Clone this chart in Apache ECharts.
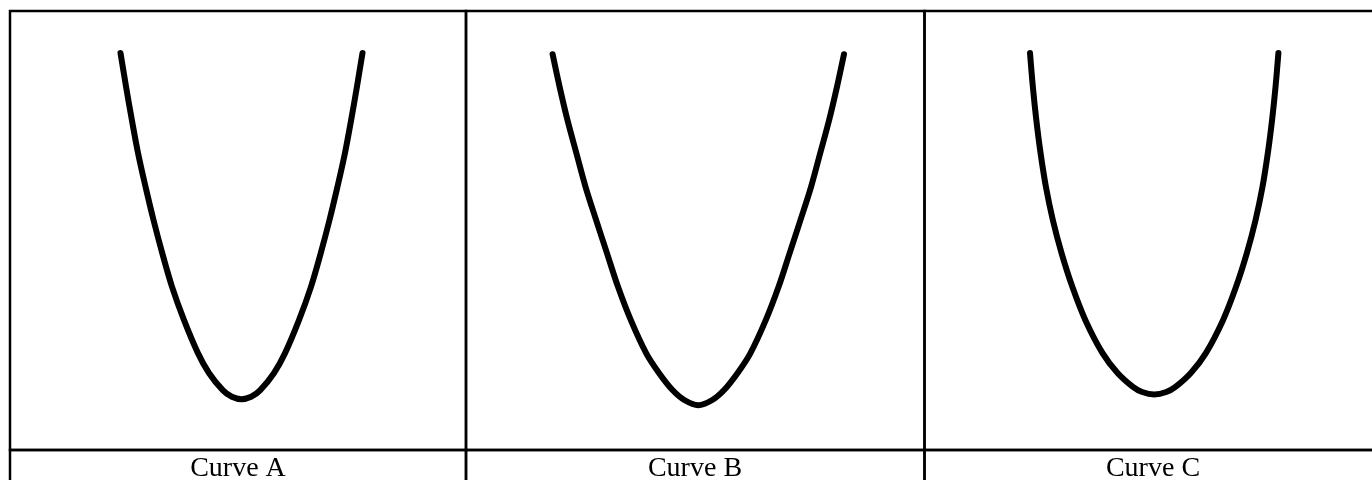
<!DOCTYPE html>
<html>
<head>
<meta charset="utf-8">
<script src="https://cdn.jsdelivr.net/npm/echarts@6/dist/echarts.min.js"></script>
<style>
  html, body { margin: 0; padding: 0; background: #fff; }
  #main { width: 1372px; height: 480px; }
</style>
</head>
<body>
<div id="main"></div>
<script>
// panel labels
var labels = ['Curve A', 'Curve B', 'Curve C']

// curve points: x from -1 (left end) to 1 (right end), y as height 0..100
var curveAX = [-1.0, -0.954, -0.906, -0.855, -0.793, -0.727, -0.655, -0.574, -0.475, -0.360, -0.269, -0.153, -0.08, 0, 0.08, 0.153, 0.269, 0.360, 0.475, 0.574, 0.655, 0.727, 0.793, 0.855, 0.906, 0.954, 1.0]
var curveAY = [100, 91.5, 83.1, 74.8, 66.3, 57.9, 49.6, 41.1, 32.7, 24.4, 19.4, 15.0, 13.4, 12.8, 13.4, 15.0, 19.4, 24.4, 32.7, 41.1, 49.6, 57.9, 66.3, 74.8, 83.1, 91.5, 100]

var curveBX = [-1.0, -0.952, -0.898, -0.837, -0.774, -0.701, -0.627, -0.551, -0.463, -0.358, -0.270, -0.177, -0.096, 0, 0.096, 0.177, 0.270, 0.358, 0.463, 0.551, 0.627, 0.701, 0.774, 0.837, 0.898, 0.952, 1.0]
var curveBY = [99.7, 91.5, 83.1, 74.8, 66.3, 57.9, 49.6, 41.1, 32.7, 24.4, 19.4, 15.1, 12.6, 11.3, 12.6, 15.1, 19.4, 24.4, 32.7, 41.1, 49.6, 57.9, 66.3, 74.8, 83.1, 91.5, 99.7]

var curveCX = [-1.0, -0.977, -0.949, -0.915, -0.872, -0.816, -0.746, -0.659, -0.554, -0.416, -0.295, -0.171, -0.097, 0, 0.097, 0.171, 0.295, 0.416, 0.554, 0.659, 0.746, 0.816, 0.872, 0.915, 0.949, 0.977, 1.0]
var curveCY = [100, 91.5, 83.1, 74.8, 66.3, 57.9, 49.6, 41.1, 32.7, 24.4, 19.4, 15.9, 14.6, 14.0, 14.6, 15.9, 19.4, 24.4, 32.7, 41.1, 49.6, 57.9, 66.3, 74.8, 83.1, 91.5, 100]

function pairs (xs, ys) {
  return xs.map(function (x, i) { return [x, ys[i]] })
}

var hidden = {
  axisLine: { show: false },
  axisTick: { show: false },
  axisLabel: { show: false },
  splitLine: { show: false }
}

function cell (left, top, width, height) {
  return {
    show: true,
    left: left,
    top: top,
    width: width,
    height: height,
    outerBoundsMode: 'none',
    borderColor: '#000',
    borderWidth: 2.5,
    backgroundColor: 'transparent'
  }
}

var curves = [pairs(curveAX, curveAY), pairs(curveBX, curveBY), pairs(curveCX, curveCY)]
var labelCenters = [238, 695, 1153]

var myChart = echarts.init(document.getElementById('main'))
myChart.setOption({
  animation: false,
  backgroundColor: '#fff',
  title: labels.map(function (t, i) {
    return {
      text: t,
      left: labelCenters[i],
      top: 455,
      padding: 0,
      textAlign: 'center',
      textVerticalAlign: 'top',
      textStyle: {
        fontFamily: '"Liberation Serif", "Times New Roman", serif',
        fontSize: 28,
        fontWeight: 'normal',
        color: '#000'
      }
    }
  }),
  grid: [
    // curve areas
    { left: 120.5, width: 242, top: 53, bottom: 30, outerBoundsMode: 'none' },
    { left: 552.6, width: 291.4, top: 53, bottom: 30, outerBoundsMode: 'none' },
    { left: 1030, width: 248.4, top: 53, bottom: 30, outerBoundsMode: 'none' },
    // table cells
    cell(10, 11, 456, 439),
    cell(466, 11, 458.5, 439),
    cell(924.5, 11, 458, 439),
    cell(10, 450, 456, 60),
    cell(466, 450, 458.5, 60),
    cell(924.5, 450, 458, 60)
  ],
  xAxis: [0, 1, 2].map(function (i) {
    return Object.assign({ type: 'value', gridIndex: i, min: -1, max: 1 }, hidden)
  }),
  yAxis: [0, 1, 2].map(function (i) {
    return Object.assign({ type: 'value', gridIndex: i, min: 0, max: 100 }, hidden)
  }),
  series: curves.map(function (d, i) {
    return {
      type: 'line',
      xAxisIndex: i,
      yAxisIndex: i,
      data: d,
      smooth: 0.35,
      showSymbol: false,
      clip: false,
      lineStyle: {
        color: '#000',
        width: 6,
        cap: 'round',
        join: 'round'
      }
    }
  })
})
</script>
</body>
</html>
